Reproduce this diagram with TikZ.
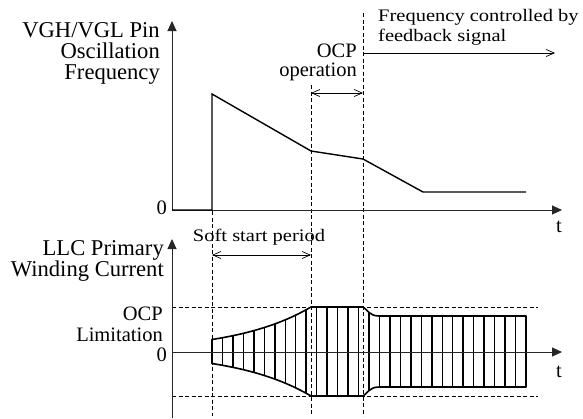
\documentclass[tikz,border=0pt]{standalone}
\usepackage{fontspec}
\setmainfont{Liberation Serif}
\newfontfamily\widefont[FakeStretch=1.165]{Liberation Serif}
\usetikzlibrary{arrows.meta}
\newcommand\envpath{(212,339.5) -- plot[domain=212:311,samples=40] (\x,{351.5-12*exp(0.01324*(\x-212))}) -- (363,307) .. controls (367,309) and (369,316) .. (379,316) -- (526,316) -- (526,387) -- (379,387) .. controls (369,387) and (367,394) .. (363,396) -- (311,396) -- plot[domain=311:212,samples=40] (\x,{351.5+12*exp(0.01324*(\x-212))}) -- cycle}
\begin{document}
\begin{tikzpicture}[x=1pt,y=-1pt,
  axis/.style={line width=0.9pt, draw=black!85, -{Triangle[length=10pt,width=9pt]}},
  guide/.style={line width=0.7pt, dash pattern=on 4pt off 2.5pt},
  curve/.style={line width=1.4pt, line join=miter},
  dim/.style={line width=0.7pt, {Straight Barb[length=8pt,width=7pt]}-{Straight Barb[length=8pt,width=7pt]}},
  dimr/.style={line width=0.7pt, -{Straight Barb[length=8pt,width=7pt]}},
  lbl/.style={inner sep=0pt, font=\fontsize{22.6}{24}\selectfont},
  sml/.style={inner sep=0pt, font=\fontsize{20.5}{22}\selectfont},
  wide/.style={inner sep=0pt, font=\widefont\fontsize{17.6}{20}\selectfont},
  hatch/.style={line width=1.5pt},
  wave/.style={line width=1.6pt, line join=round}]
\useasboundingbox (0,0) rectangle (583,418);
% guides
\draw[guide] (212,211) -- (212,416);
\draw[guide] (311,85) -- (311,416);
\draw[guide] (363,13) -- (363,416);
\draw[guide] (172,307) -- (538,307);
\draw[guide] (172,396) -- (538,396);
% hatched waveform
\begin{scope}
\clip \envpath;
\foreach \i in {1,...,29} \draw[hatch] ({212+10.467*\i},300) -- ++(0,100);
\end{scope}
\draw[wave] \envpath;
% top axes
\coordinate (o1) at (172,210);
\coordinate (y1) at (172,21);
\coordinate (x1) at (562,210);
\draw[axis] (o1) -- (y1);
\draw[axis] (o1) -- (x1);
% frequency curve
\draw[curve] (172,210) -- (212,210) -- (212,94) -- (311,151) -- (363,159) -- (423,192) -- (526,192);
% lower axes
\coordinate (o2) at (172,418);
\coordinate (y2) at (172,239);
\coordinate (z0) at (172,352);
\coordinate (x2) at (562,352);
\draw[axis] (o2) -- (y2);
\draw[axis] (z0) -- (x2);
% dimension arrows
\coordinate (oa) at (311,93);
\coordinate (ob) at (363,93);
\draw[dim] (oa) -- (ob);
\coordinate (fa) at (363,53);
\coordinate (fb) at (555,53);
\draw[dimr] (fa) -- (fb);
\coordinate (sa) at (212,255);
\coordinate (sb) at (311,255);
\draw[dim] (sa) -- (sb);
% labels
\node[lbl, anchor=base east] (l1) at (160,37) {VGH/VGL Pin};
\node[lbl, anchor=base east] (l2) at (160,58.3) {Oscillation};
\node[lbl, anchor=base east] (l3) at (160,79.5) {Frequency};
\node[lbl, anchor=base east] (l4) at (164,255) {LLC Primary};
\node[lbl, anchor=base east] (l5) at (164,276.5) {Winding Current};
\node[sml, anchor=base east] (l6) at (163,320) {OCP};
\node[sml, anchor=base east] (l7) at (163,341.7) {Limitation};
\node[sml, anchor=base east] (z1) at (167,214) {0};
\node[sml, anchor=base east] (z2) at (167,361.5) {0};
\node[sml, anchor=base] (t1) at (559,232.7) {t};
\node[sml, anchor=base] (t2) at (559,377.7) {t};
\node[sml, anchor=base east] (oc1) at (357,57) {OCP};
\node[sml, anchor=base east] (oc2) at (357,76) {operation};
\node[wide, anchor=base west] (fc1) at (378,21.7) {Frequency controlled by};
\node[wide, anchor=base west] (fc2) at (378,41.7) {feedback signal};
\node[wide, anchor=base] (ssp) at (259,241.7) {Soft start period};
\end{tikzpicture}
\end{document}
